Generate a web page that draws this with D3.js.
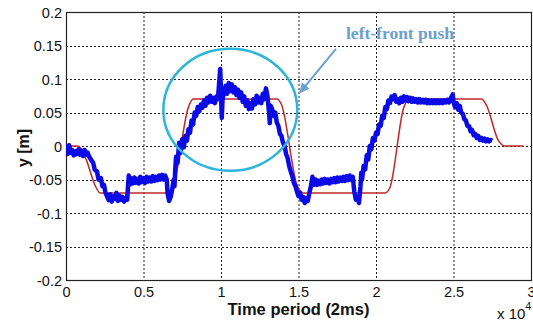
<!DOCTYPE html>
<html><head><meta charset="utf-8">
<script src="https://cdn.jsdelivr.net/npm/d3@7"></script>
<style>body{margin:0;background:#fff}svg{display:block}</style>
</head><body><svg id="c" width="533" height="327"></svg>
<script>
const xTicks = [0, 0.5, 1, 1.5, 2, 2.5, 3];
const xTickLabels = ["0", "0.5", "1", "1.5", "2", "2.5", "3"];
const yTicks = [-0.2, -0.15, -0.1, -0.05, 0, 0.05, 0.1, 0.15, 0.2];
const yTickLabels = ["-0.2", "-0.15", "-0.1", "-0.05", "0", "0.05", "0.1", "0.15", "0.2"];
const xLabel = "Time period (2ms)";
const yLabel = "y [m]";
const annotation = "left-front push";

// reference trajectory (x in units of 1e4 samples)
const refX = [0,0.07,0.10,0.13,0.19,0.22,0.66,0.69,0.79,0.82,1.36,1.39,1.49,1.53,2.06,2.09,2.18,2.22,2.68,2.71,2.79,2.83,2.95];
const refY = [0,0,-0.005,-0.02,-0.06,-0.07,-0.07,-0.062,0.058,0.07,0.07,0.062,-0.058,-0.07,-0.07,-0.062,0.058,0.07,0.07,0.062,0.008,0,0];

// measured trajectory
const measured = [
[0,0.003],[0.01,-0.012],[0.02,0.001],[0.03,-0.01],[0.04,-0.006],[0.05,-0.014],[0.06,-0.008],[0.07,-0.012],[0.08,-0.005],[0.09,-0.013],[0.10,-0.007],[0.11,-0.015],[0.12,-0.006],[0.13,-0.013],[0.14,-0.01],[0.15,-0.016],
[0.16,-0.02],[0.175,-0.025],[0.185,-0.035],[0.20,-0.038],[0.21,-0.05],[0.225,-0.048],[0.235,-0.06],[0.245,-0.058],[0.255,-0.07],[0.265,-0.075],
[0.275,-0.081],[0.285,-0.072],[0.295,-0.083],[0.305,-0.075],[0.315,-0.079],[0.325,-0.07],[0.335,-0.082],[0.345,-0.074],[0.355,-0.08],[0.365,-0.076],[0.375,-0.083],[0.385,-0.077],[0.395,-0.08],
[0.40,-0.06],[0.405,-0.044],[0.41,-0.058],[0.42,-0.048],[0.43,-0.056],[0.44,-0.047],[0.45,-0.055],[0.46,-0.049],[0.47,-0.056],[0.48,-0.046],[0.49,-0.054],[0.50,-0.048],[0.51,-0.055],[0.52,-0.046],[0.53,-0.053],[0.54,-0.047],[0.55,-0.053],[0.56,-0.045],[0.57,-0.052],[0.58,-0.046],[0.59,-0.051],[0.60,-0.044],[0.61,-0.05],[0.62,-0.043],[0.63,-0.05],[0.64,-0.044],[0.65,-0.05],
[0.655,-0.07],[0.665,-0.082],[0.675,-0.076],[0.685,-0.065],[0.695,-0.05],[0.70,-0.06],[0.705,-0.035],[0.71,-0.016],[0.72,-0.025],[0.73,0.005],[0.74,-0.01],[0.75,0.01],[0.76,-0.002],[0.77,0.015],[0.78,0.008],[0.79,0.025],[0.80,0.02],[0.81,0.038],[0.82,0.032],[0.83,0.05],[0.84,0.045],[0.85,0.058],[0.86,0.052],[0.87,0.062],[0.88,0.057],[0.89,0.068],[0.90,0.06],[0.91,0.072],[0.92,0.065],[0.93,0.075],[0.94,0.066],[0.95,0.072],[0.96,0.064],[0.97,0.074],[0.98,0.07],[0.99,0.1],[0.995,0.115],[1.0,0.08],[1.005,0.042],[1.01,0.07],[1.02,0.08],[1.03,0.09],[1.04,0.078],[1.05,0.094],[1.06,0.082],[1.07,0.092],[1.08,0.08],[1.09,0.088],[1.10,0.076],[1.11,0.084],[1.12,0.072],[1.13,0.08],[1.14,0.066],[1.15,0.074],[1.16,0.06],[1.17,0.068],[1.18,0.055],[1.19,0.064],[1.20,0.056],[1.21,0.07],[1.22,0.062],[1.23,0.075],[1.24,0.065],[1.25,0.072],[1.26,0.064],[1.27,0.078],[1.28,0.07],[1.29,0.086],[1.30,0.074],[1.31,0.05],[1.315,0.034],[1.32,0.06],[1.33,0.055],[1.34,0.045],[1.35,0.05],[1.36,0.035],[1.37,0.03],[1.38,0.018],[1.39,0.015],[1.40,0.005],[1.41,0.0],[1.42,-0.012],[1.43,-0.018],[1.44,-0.03],[1.45,-0.038],[1.46,-0.045],[1.47,-0.055],[1.48,-0.06],[1.49,-0.068],
[1.50,-0.075],[1.51,-0.07],[1.52,-0.08],[1.53,-0.076],[1.54,-0.085],[1.55,-0.078],[1.56,-0.082],[1.57,-0.07],[1.58,-0.06],[1.59,-0.046],
[1.60,-0.058],[1.61,-0.05],[1.62,-0.058],[1.63,-0.052],[1.64,-0.057],[1.65,-0.05],[1.66,-0.056],[1.67,-0.049],[1.68,-0.055],[1.69,-0.05],[1.70,-0.056],[1.71,-0.049],[1.72,-0.054],[1.73,-0.048],[1.74,-0.054],[1.75,-0.047],[1.76,-0.053],[1.77,-0.047],[1.78,-0.052],[1.79,-0.046],[1.80,-0.052],[1.81,-0.045],[1.82,-0.051],[1.83,-0.044],[1.84,-0.05],[1.85,-0.046],
[1.86,-0.068],[1.87,-0.08],[1.88,-0.076],[1.89,-0.085],[1.90,-0.06],[1.905,-0.04],[1.91,-0.05],[1.92,-0.03],[1.93,-0.035],[1.94,-0.014],[1.95,-0.02],[1.96,0.0],[1.97,-0.005],[1.98,0.012],[1.99,0.008],[2.0,0.02],[2.01,0.018],[2.02,0.032],[2.03,0.03],[2.04,0.045],[2.05,0.042],[2.06,0.058],[2.07,0.055],[2.08,0.068],[2.09,0.064],[2.10,0.074],[2.11,0.07],[2.12,0.076],[2.13,0.066],[2.14,0.07],[2.15,0.064],[2.16,0.072],[2.17,0.066],[2.18,0.074],[2.19,0.068],[2.20,0.073],
[2.21,0.067],[2.22,0.072],[2.23,0.066],[2.24,0.071],[2.25,0.066],[2.26,0.07],[2.27,0.065],[2.28,0.07],[2.29,0.065],[2.30,0.069],[2.31,0.065],[2.32,0.069],[2.33,0.064],[2.34,0.068],[2.35,0.064],[2.36,0.068],[2.37,0.064],[2.38,0.068],[2.39,0.064],[2.40,0.068],[2.41,0.064],[2.42,0.068],[2.43,0.064],[2.44,0.068],[2.45,0.065],[2.46,0.069],[2.47,0.065],[2.48,0.07],[2.495,0.077],[2.50,0.066],[2.51,0.058],[2.52,0.064],[2.53,0.054],[2.54,0.06],[2.55,0.05],[2.56,0.048],[2.57,0.04],[2.58,0.038],[2.59,0.03],[2.60,0.03],[2.61,0.022],[2.62,0.024],[2.63,0.016],[2.64,0.018],[2.65,0.012],[2.66,0.015],[2.67,0.009],[2.68,0.012],[2.69,0.008],[2.70,0.011],[2.71,0.007],[2.72,0.01],[2.73,0.007],[2.74,0.009],[2.75,0.008]
];

// annotation ellipse (data units) and arrow
const ellipseC = [1.06, 0.054], ellipseR = [0.432, 0.091];
const arrowFrom = [1.742, 0.145], arrowTo = [1.51, 0.080];

const svg = d3.select("#c");
const L = 66, R = 531, T = 12, B = 280;
const x = d3.scaleLinear().domain([0, 3]).range([L, R]);
const y = d3.scaleLinear().domain([-0.2, 0.2]).range([B, T]);

// grid
const g = svg.append("g");
g.selectAll(".vg").data(xTicks.slice(1, -1)).join("line")
  .attr("x1", d => x(d)+0.5).attr("x2", d => x(d)+0.5).attr("y1", T).attr("y2", B)
  .attr("stroke", "#222").attr("stroke-width", 1).attr("stroke-dasharray", "2,2");
g.selectAll(".hg").data(yTicks.slice(1, -1)).join("line")
  .attr("y1", d => Math.round(y(d))+0.5).attr("y2", d => Math.round(y(d))+0.5).attr("x1", L).attr("x2", R)
  .attr("stroke", "#222").attr("stroke-width", 1).attr("stroke-dasharray", "2,2");

// axes
const xa = svg.append("g").attr("transform", `translate(0,${B})`)
  .call(d3.axisBottom(x).tickValues(xTicks).tickFormat((d, i) => xTickLabels[i]).tickSize(0).tickPadding(7));
const ya = svg.append("g").attr("transform", `translate(${L},0)`)
  .call(d3.axisLeft(y).tickValues(yTicks).tickFormat((d, i) => yTickLabels[i]).tickSize(0).tickPadding(4));
[xa, ya].forEach(a => {
  a.select(".domain").remove();
  a.selectAll("text").attr("font-family", "Arial, 'Liberation Sans', sans-serif").attr("font-size", "14.5px").attr("fill", "#111");
});
ya.selectAll("text").attr("dy", "0.36em");

// box
svg.append("rect").attr("x", L+0.5).attr("y", T+0.5).attr("width", R-L).attr("height", B-T)
  .attr("fill", "none").attr("stroke", "#222").attr("stroke-width", 1.2);

const clip = svg.append("clipPath").attr("id", "pc").append("rect")
  .attr("x", L).attr("y", T).attr("width", R-L).attr("height", B-T);
const plot = svg.append("g").attr("clip-path", "url(#pc)");

// reference line
const refData = refX.map((v, i) => [v, refY[i]]);
plot.append("path").datum(refData)
  .attr("d", d3.line().x(d => x(d[0])).y(d => y(d[1])).curve(d3.curveMonotoneX))
  .attr("fill", "none").attr("stroke", "#c0282c").attr("stroke-width", 1.5);

// measured line
plot.append("path").datum(measured)
  .attr("d", d3.line().x(d => x(d[0])).y(d => y(d[1])))
  .attr("fill", "none").attr("stroke", "#0a0ae6").attr("stroke-width", 4.5).attr("stroke-linejoin", "round");

// ellipse
svg.append("ellipse").attr("cx", x(ellipseC[0])).attr("cy", y(ellipseC[1]))
  .attr("rx", x(ellipseR[0]) - x(0)).attr("ry", y(0) - y(ellipseR[1]))
  .attr("fill", "none").attr("stroke", "#2db4d8").attr("stroke-width", 2.5);

// arrow
svg.append("defs").append("marker").attr("id", "ah").attr("viewBox", "0 0 10 10")
  .attr("refX", 9).attr("refY", 5).attr("markerWidth", 5).attr("markerHeight", 5).attr("orient", "auto")
  .append("path").attr("d", "M0,0 L10,5 L0,10 z").attr("fill", "#6aa0d0");
svg.append("line").attr("x1", x(arrowFrom[0])).attr("y1", y(arrowFrom[1]))
  .attr("x2", x(arrowTo[0])).attr("y2", y(arrowTo[1]))
  .attr("stroke", "#6aa0d0").attr("stroke-width", 2).attr("marker-end", "url(#ah)");

svg.append("text").attr("x", 346).attr("y", 39).text(annotation)
  .attr("font-family", "'Liberation Serif', 'Times New Roman', serif").attr("font-weight", "bold")
  .attr("font-size", "17.5px").attr("fill", "#6a9fcf");

// axis labels
svg.append("text").attr("x", (L+R)/2).attr("y", 315).attr("text-anchor", "middle").text(xLabel)
  .attr("font-family", "Arial, 'Liberation Sans', sans-serif").attr("font-weight", "bold").attr("font-size", "16.5px").attr("fill", "#111");
svg.append("text").attr("transform", `translate(29,${(T+B)/2+2}) rotate(-90)`).attr("text-anchor", "middle").text(yLabel)
  .attr("font-family", "Arial, 'Liberation Sans', sans-serif").attr("font-weight", "bold").attr("font-size", "16px").attr("fill", "#111");

// x 10^4
const sx = svg.append("text").attr("x", 497).attr("y", 319)
  .attr("font-family", "Arial, 'Liberation Sans', sans-serif").attr("font-size", "15px").attr("fill", "#111");
sx.append("tspan").text("x 10");
sx.append("tspan").attr("dy", -9).attr("font-size", "11px").text("4");
</script></body></html>
